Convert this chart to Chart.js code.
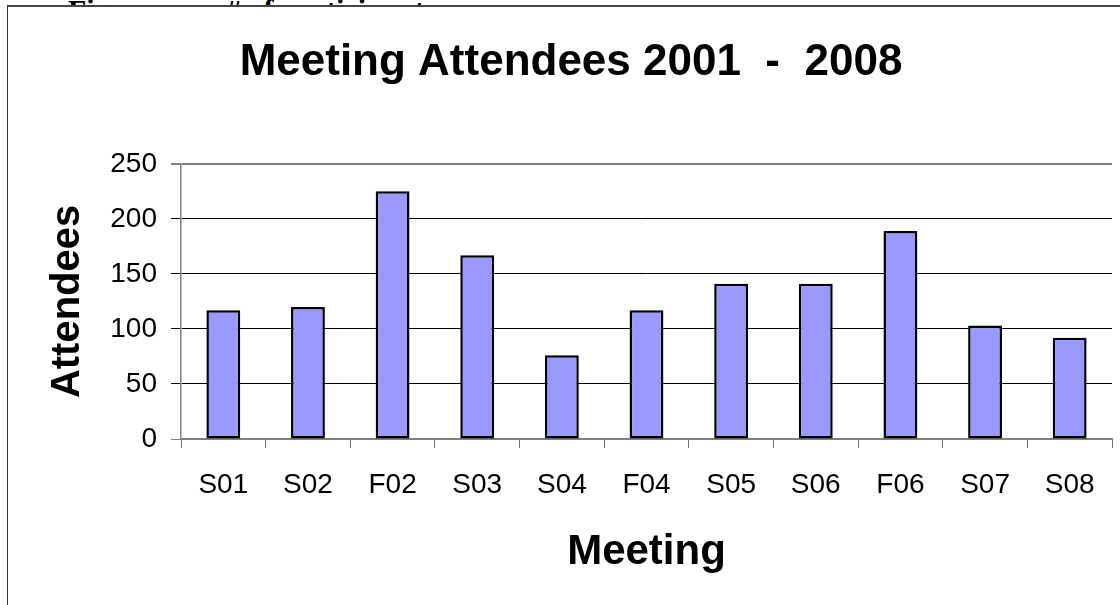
<!DOCTYPE html>
<html>
<head>
<meta charset="utf-8">
<script src="https://cdn.jsdelivr.net/npm/chart.js@4"></script>
<style>
html,body{margin:0;padding:0;background:#fff;width:1120px;height:605px;overflow:hidden;}
#cap{position:absolute;left:0;top:0;width:1120px;height:5px;overflow:hidden;font-family:"Liberation Serif","DejaVu Serif",serif;font-weight:bold;font-size:30px;color:#000;}
#cap span{position:absolute;top:-5px;line-height:30px;white-space:nowrap;}
#frame{position:absolute;left:7px;top:5px;width:1120px;height:610px;border-left:1px solid #333;border-top:2px solid #444;box-sizing:border-box;}
#wrap{position:absolute;left:0;top:0;width:1120px;height:605px;}
</style>
</head>
<body>
<div id="cap"><span style="left:30px;font-family:'DejaVu Sans';font-size:26px;">➢</span><span style="left:68px;">Figure</span><span style="left:226px;"># of participants</span></div>
<div id="frame"></div>
<div id="wrap"><canvas id="c" width="1120" height="605"></canvas></div>
<script>
const categories = ['S01','S02','F02','S03','S04','F04','S05','S06','F06','S07','S08'];
const attendees = [117,120,225,167,76,117,141,141,189,103,92];
const yTicks = [0,50,100,150,200,250];
const chartTitle = 'Meeting Attendees 2001  -  2008';
const xTitle = 'Meeting';
const yTitle = 'Attendees';

Chart.defaults.font.family = '"Liberation Sans", Arial, sans-serif';
Chart.defaults.color = '#000';

new Chart(document.getElementById('c'), {
  type: 'bar',
  data: {
    labels: categories,
    datasets: [{
      data: attendees,
      backgroundColor: '#9999FF',
      borderColor: '#000000',
      borderWidth: 2.5,
      borderSkipped: false,
      barPercentage: 0.4,
      categoryPercentage: 1.0
    }]
  },
  options: {
    responsive: false,
    animation: false,
    devicePixelRatio: 1,
    layout: { padding: { left: 30, right: 8, top: 0, bottom: 0 } },
    plugins: {
      legend: { display: false },
      tooltip: { enabled: false },
      title: {
        display: true,
        text: chartTitle,
        color: '#000',
        font: { size: 44, weight: 'bold' },
        padding: { top: 36, bottom: 75 }
      }
    },
    scales: {
      x: {
        grid: { offset: true, drawOnChartArea: false, drawTicks: true, tickLength: 9, color: '#707070', lineWidth: 1 },
        border: { display: true, color: '#808080', width: 1.5 },
        ticks: { color: '#000', font: { size: 28 }, padding: 20, maxRotation: 0, autoSkip: false },
        title: { display: true, text: xTitle, color: '#000', font: { size: 42, weight: 'bold' }, padding: { top: 0, bottom: 27 } },
        afterFit(s) { s.height = 166; }
      },
      y: {
        min: 0,
        max: 250,
        afterBuildTicks(s) { s.ticks = yTicks.map(v => ({ value: v })); },
        grid: {
          drawTicks: true,
          tickLength: 10,
          color: ctx => (ctx.tick && (ctx.tick.value === 250 || ctx.tick.value === 0)) ? '#808080' : '#000000',
          lineWidth: ctx => (ctx.tick && ctx.tick.value === 250) ? 2 : 1
        },
        border: { display: true, color: '#808080', width: 1.5 },
        ticks: { color: '#000', font: { size: 28 }, padding: 14 },
        title: { display: true, text: yTitle, color: '#000', font: { size: 40, weight: 'bold' }, padding: { top: 14, bottom: 0 } },
        afterFit(s) { s.width = 151; }
      }
    }
  }
});
</script>
</body>
</html>
